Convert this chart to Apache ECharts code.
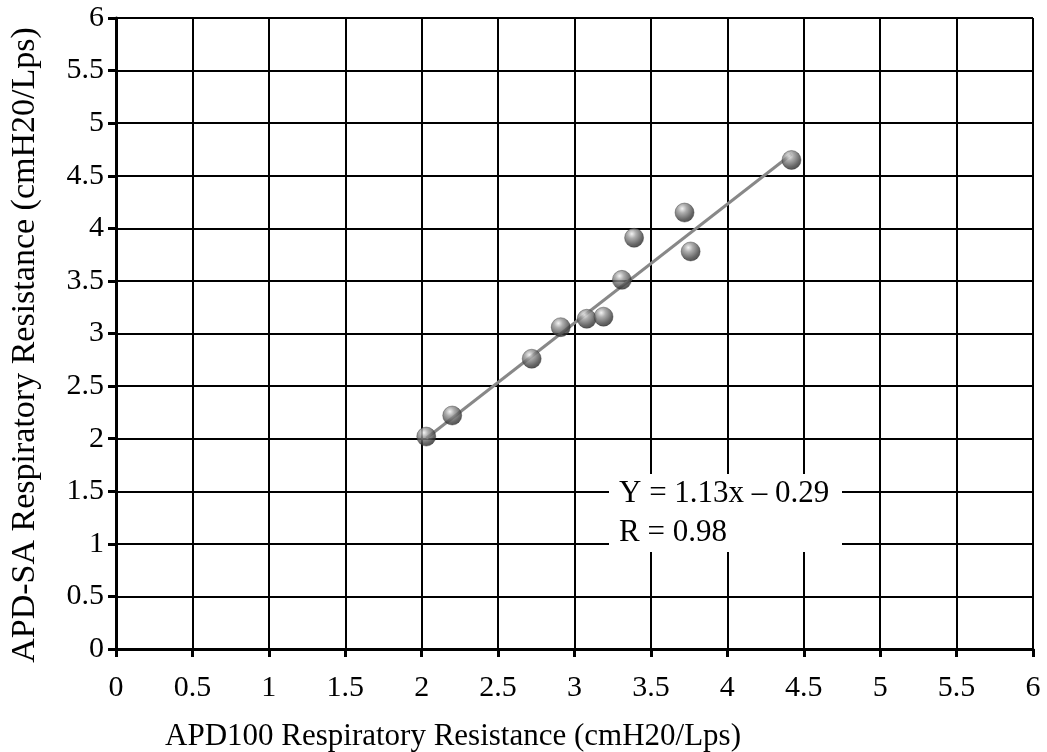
<!DOCTYPE html>
<html><head><meta charset="utf-8">
<script src="https://cdn.jsdelivr.net/npm/echarts@6/dist/echarts.min.js"></script>
<style>html,body{margin:0;padding:0;background:#fff}#c{width:1047px;height:752px}</style>
</head><body><div id="c"></div>
<script>
var xValues = [2.03, 2.20, 2.72, 2.91, 3.08, 3.19, 3.31, 3.39, 3.72, 3.76, 4.42];
var yValues = [2.02, 2.22, 2.76, 3.06, 3.14, 3.16, 3.51, 3.91, 4.15, 3.78, 4.65];
var fitSlope = 1.13, fitIntercept = -0.29;
var fitRange = [2.03, 4.42];
var xTitle = 'APD100 Respiratory Resistance (cmH20/Lps)';
var yTitle = 'APD-SA Respiratory Resistance (cmH20/Lps)';
var eqText = 'Y = 1.13x \u2013 0.29';
var rText = 'R = 0.98';

var points = xValues.map(function(x, i){ return [x, yValues[i]]; });
var fitLine = fitRange.map(function(x){ return [x, fitSlope * x + fitIntercept]; });

var font = 'Liberation Serif';
var chart = echarts.init(document.getElementById('c'), null, {renderer:'canvas'});
function axis(margin){
  return {
    type:'value', min:0, max:6, interval:0.5,
    axisLine:{show:true, onZero:false, lineStyle:{color:'#000', width:3}},
    axisTick:{show:true, length:8, inside:false, lineStyle:{color:'#000', width:3}},
    splitLine:{show:true, lineStyle:{color:'#000', width:2}},
    axisLabel:{color:'#000', fontFamily:font, fontSize:30, margin:margin, formatter:function(v){return String(v);}}
  };
}
chart.setOption({
  animation:false,
  backgroundColor:'#fff',
  grid:{left:116, right:14, top:18, bottom:103, containLabel:false},
  xAxis: axis(24),
  yAxis: axis(12),
  series:[
    {type:'line', data:fitLine, symbol:'none', lineStyle:{color:'#888', width:3}, z:3},
    {type:'scatter', data:points, symbolSize:19, z:4,
     itemStyle:{color:new echarts.graphic.RadialGradient(0.38,0.3,0.75,[
       {offset:0,color:'#f0f0f0'},{offset:0.3,color:'#999'},{offset:0.75,color:'#404040'},{offset:1,color:'#202020'}]),
       borderColor:'#333', borderWidth:0.5}}
  ],
  graphic:[
    {type:'rect', left:609, top:474, shape:{width:233, height:78}, style:{fill:'#fff'}, z:10},
    {type:'text', x:619, y:494, style:{text:eqText, font:'31px "Liberation Serif"', fill:'#000', verticalAlign:'middle'}, z:11},
    {type:'text', x:619, y:533, style:{text:rText, font:'31px "Liberation Serif"', fill:'#000', verticalAlign:'middle'}, z:11},
    {type:'text', x:165, y:737, style:{text:xTitle, font:'31px "Liberation Serif"', fill:'#000', verticalAlign:'middle'}, z:11},
    {type:'text', x:25, y:345, rotation:Math.PI/2, style:{text:yTitle, font:'34px "Liberation Serif"', fill:'#000', align:'center', verticalAlign:'middle'}, z:11}
  ]
});
</script></body></html>
